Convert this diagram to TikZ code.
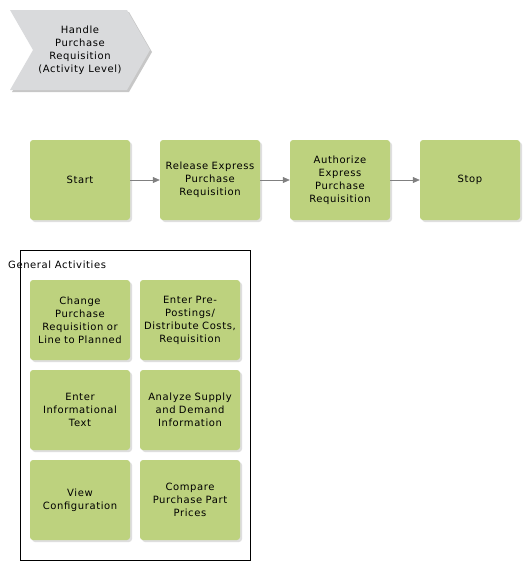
\documentclass[tikz,border=0pt]{standalone}
\usepackage{fontspec}
\setmainfont{DejaVu Sans}[LetterSpace=6]
\usetikzlibrary{arrows.meta,positioning,shadows}
\definecolor{actgreen}{HTML}{BDD27E}
\definecolor{chevgray}{HTML}{D9DADC}
\definecolor{arrgray}{HTML}{808080}

\begin{document}
\begin{tikzpicture}[
    x=1pt, y=-1pt,
    >=Triangle,
    act/.style={fill=actgreen, rounded corners=3pt, minimum width=100pt, minimum height=80pt, inner sep=1pt,
        font=\fontsize{10}{13}\selectfont, align=center, text width=98pt,
        drop shadow={shadow xshift=2pt, shadow yshift=-2pt, fill=black!25}},
    flow/.style={->, arrgray, semithick, >={Triangle[length=7pt,width=6pt]}},
    label/.style={font=\fontsize{10}{13}\selectfont, inner sep=0pt},
]
\useasboundingbox (0,0) rectangle (530,570);

% Process chevron
\fill[black!22] (12,12) -- (129,12) -- (152,52) -- (129,92) -- (12,92) -- (35,52) -- cycle;
\fill[chevgray] (10,10) -- (127,10) -- (150,50) -- (127,90) -- (10,90) -- (33,50) -- cycle;
\node[label, align=center] (proc) at (80,50) {Handle\\Purchase\\Requisition\\(Activity Level)};

% Main flow
\node[act] (start) at (80,180) {Start};
\node[act] (release) at (210,180) {Release Express\\Purchase\\Requisition};
\node[act] (authorize) at (340,180) {Authorize\\Express\\Purchase\\Requisition};
\node[act] (stop) at (470,180) {Stop};

\draw[flow] (start) -- (release);
\draw[flow] (release) -- (authorize);
\draw[flow] (authorize) -- (stop);

% General activities
\draw[black, fill=white] (20,250) rectangle (250,560);
\node[label, anchor=west] (general) at (8,265) {General Activities};

\node[act] (change) at (80,320) {Change\\Purchase\\Requisition or\\Line to Planned};
\node[act] (prepost) at (190,320) {Enter Pre-\\Postings/\\Distribute Costs,\\Requisition};
\node[act] (infotext) at (80,410) {Enter\\Informational\\Text};
\node[act] (supply) at (190,410) {Analyze Supply\\and Demand\\Information};
\node[act] (config) at (80,500) {View\\Configuration};
\node[act] (compare) at (190,500) {Compare\\Purchase Part\\Prices};
\end{tikzpicture}
\end{document}
